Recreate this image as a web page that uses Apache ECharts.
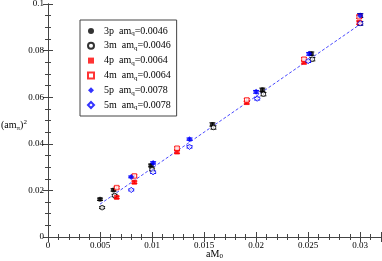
<!DOCTYPE html>
<html>
<head>
<meta charset="utf-8">
<script src="https://cdn.jsdelivr.net/npm/echarts@6/dist/echarts.min.js"></script>
<style>html,body{margin:0;padding:0;background:#fff}#c{width:382px;height:261px}</style>
</head>
<body>
<div id="c"></div>
<script>
// ---- data ----
const seriesNames = ['3p', '3m', '4p', '4m', '5p', '5m'];
const seriesMq = ['0.0046', '0.0046', '0.0064', '0.0064', '0.0078', '0.0078'];

const x3p = [0.0050, 0.0063, 0.0099, 0.0158, 0.0206, 0.0253, 0.0300];
const y3p = [0.0162, 0.0202, 0.0307, 0.0483, 0.0632, 0.0787, 0.0950];
const e3p = [0.0005, 0.0005, 0.0006, 0.0007, 0.0007, 0.0007, 0.0008];

const x3m = [0.0052, 0.0064, 0.0100, 0.0159, 0.0207, 0.0254, 0.0300];
const y3m = [0.0126, 0.0178, 0.0290, 0.0470, 0.0613, 0.0763, 0.0917];
const e3m = [0.0004, 0.0005, 0.0006, 0.0007, 0.0007, 0.0007, 0.0008];

const x4p = [0.0066, 0.0083, 0.0124, 0.0191, 0.0246, 0.0299];
const y4p = [0.0170, 0.0235, 0.0365, 0.0577, 0.0750, 0.0920];
const e4p = [0.0005, 0.0005, 0.0006, 0.0006, 0.0007, 0.0007];

const x4m = [0.0066, 0.0083, 0.0124, 0.0191, 0.0246, 0.0299];
const y4m = [0.0212, 0.0262, 0.0381, 0.0588, 0.0763, 0.0945];
const e4m = [0.0005, 0.0005, 0.0006, 0.0006, 0.0007, 0.0007];

const x5p = [0.0080, 0.0101, 0.0136, 0.0200, 0.0251, 0.0300];
const y5p = [0.0258, 0.0318, 0.0420, 0.0623, 0.0786, 0.0951];
const e5p = [0.0004, 0.0005, 0.0005, 0.0006, 0.0006, 0.0007];

const x5m = [0.0080, 0.0101, 0.0136, 0.0201, 0.0250, 0.0300];
const y5m = [0.0202, 0.0278, 0.0387, 0.0594, 0.0755, 0.0917];
const e5m = [0.0004, 0.0005, 0.0005, 0.0006, 0.0006, 0.0007];

const fitX = [0.0050, 0.0300];
const fitY = [0.0141, 0.0913];

const xTicks = [0, 0.005, 0.01, 0.015, 0.02, 0.025, 0.03];
const yTicks = [0, 0.02, 0.04, 0.06, 0.08, 0.1];

// ---- chart ----
const FONT = 'Liberation Serif';
const sets = [
  {x: x3p, y: y3p, e: e3p, color: '#000000', symbol: 'circle', open: false, size: 5},
  {x: x3m, y: y3m, e: e3m, color: '#000000', symbol: 'circle', open: true, size: 4.5},
  {x: x4p, y: y4p, e: e4p, color: '#ff0000', symbol: 'rect', open: false, size: 5},
  {x: x4m, y: y4m, e: e4m, color: '#ff0000', symbol: 'rect', open: true, size: 4.5},
  {x: x5p, y: y5p, e: e5p, color: '#0000ff', symbol: 'diamond', open: false, size: 6},
  {x: x5m, y: y5m, e: e5m, color: '#0000ff', symbol: 'diamond', open: true, size: 5.5}
];

const series = [];
series.push({
  type: 'line', name: 'fit', silent: true,
  data: fitX.map((v, i) => [v, fitY[i]]),
  symbol: 'none',
  lineStyle: {color: '#4a4aff', width: 1, type: [3, 2]},
  z: 1
});
sets.forEach((s, k) => {
  const col = s.color;
  series.push({
    type: 'custom', name: seriesNames[k] + '_err', silent: true,
    data: s.x.map((v, i) => [v, s.y[i], s.e[i]]),
    renderItem: function (params, api) {
      const x = api.value(0), y = api.value(1), e = api.value(2);
      const p1 = api.coord([x, y - e]), p2 = api.coord([x, y + e]);
      const hw = 3;
      const st = {stroke: col, lineWidth: 1};
      return {type: 'group', children: [
        {type: 'line', shape: {x1: p1[0], y1: p1[1], x2: p2[0], y2: p2[1]}, style: st},
        {type: 'line', shape: {x1: p1[0] - hw, y1: p1[1], x2: p1[0] + hw, y2: p1[1]}, style: st},
        {type: 'line', shape: {x1: p2[0] - hw, y1: p2[1], x2: p2[0] + hw, y2: p2[1]}, style: st}
      ]};
    },
    z: 2
  });
  series.push({
    type: 'scatter', name: seriesNames[k],
    data: s.x.map((v, i) => [v, s.y[i]]),
    symbol: s.symbol, symbolSize: s.size,
    itemStyle: s.open ? {color: '#ffffff', borderColor: col, borderWidth: 1} : {color: col, borderColor: col, borderWidth: 0},
    z: 3
  });
});

const chart = echarts.init(document.getElementById('c'), null, {renderer: 'canvas'});
const mqMap = {};
seriesNames.forEach((n, i) => mqMap[n] = seriesMq[i]);

const axisCommon = {
  axisLine: {show: true, lineStyle: {color: '#444', width: 1}},
  splitLine: {show: false},
  axisTick: {show: true, inside: true, length: 5, lineStyle: {color: '#444'}},
  minorTick: {show: true, length: 3, lineStyle: {color: '#444'}}
};

chart.setOption({
  animation: false,
  backgroundColor: '#fff',
  grid: {left: 48, right: 1, top: 4, bottom: 24, containLabel: false, outerBoundsMode: 'none'},
  legend: {
    data: seriesNames.map(n => ({name: n})),
    orient: 'vertical', left: 80, top: 20,
    backgroundColor: '#fff',
    borderColor: '#444', borderWidth: 1,
    padding: [5, 6, 5, 7],
    itemWidth: 6, itemHeight: 6, itemGap: 2.8,
    formatter: n => '{a|' + n + '  am}{s|q}{a|=' + mqMap[n] + '}',
    textStyle: {
      fontFamily: FONT, fontSize: 10, color: '#000', padding: [0, 0, 0, 5],
      rich: {
        a: {fontFamily: FONT, fontSize: 10, color: '#000', lineHeight: 12},
        s: {fontFamily: FONT, fontSize: 7, color: '#000', verticalAlign: 'bottom', padding: [5, 0, 0, 0], lineHeight: 12}
      }
    }
  },
  graphic: [{
    type: 'text', left: 1, top: 119, silent: true,
    style: {
      text: '{a|(am}{s|π}{a|)}{p|2}',
      rich: {
        a: {fontFamily: FONT, fontSize: 10, fill: '#000', color: '#000'},
        s: {fontFamily: FONT, fontSize: 7, fill: '#000', color: '#000', verticalAlign: 'bottom', padding: [5, 0, 0, 0]},
        p: {fontFamily: FONT, fontSize: 7, fill: '#000', color: '#000', verticalAlign: 'top', padding: [0, 0, 6, 0]}
      }
    }
  }],
  xAxis: [
    Object.assign({}, axisCommon, {
      type: 'value', position: 'bottom', min: 0, max: 0.032, interval: 0.005,
      minorTick: Object.assign({}, axisCommon.minorTick, {splitNumber: 5}),
      axisLabel: {fontFamily: FONT, fontSize: 9, color: '#000', margin: 4, showMaxLabel: false,
        formatter: v => (xTicks.some(t => Math.abs(t - v) < 1e-9) ? String(+v.toFixed(3)) : '')},
      name: '{a|aM}{s|0}', nameLocation: 'middle', nameGap: 11, nameMoveOverlap: false,
      nameTextStyle: {fontFamily: FONT, rich: {
        a: {fontFamily: FONT, fontSize: 10, color: '#000'},
        s: {fontFamily: FONT, fontSize: 7, color: '#000', verticalAlign: 'bottom', padding: [5, 0, 0, 0]}
      }}
    }),
    Object.assign({}, axisCommon, {
      type: 'value', position: 'top', min: 0, max: 0.032, interval: 0.005,
      minorTick: Object.assign({}, axisCommon.minorTick, {splitNumber: 5}),
      axisLabel: {show: false}
    })
  ],
  yAxis: [
    Object.assign({}, axisCommon, {
      type: 'value', position: 'left', min: 0, max: 0.1, interval: 0.02,
      minorTick: Object.assign({}, axisCommon.minorTick, {splitNumber: 4}),
      axisLabel: {fontFamily: FONT, fontSize: 9, color: '#000', margin: 4,
        formatter: v => String(+v.toFixed(3))}
    }),
    Object.assign({}, axisCommon, {
      type: 'value', position: 'right', min: 0, max: 0.1, interval: 0.02,
      minorTick: Object.assign({}, axisCommon.minorTick, {splitNumber: 4}),
      axisLabel: {show: false}
    })
  ],
  series: series
});
</script>
</body>
</html>
